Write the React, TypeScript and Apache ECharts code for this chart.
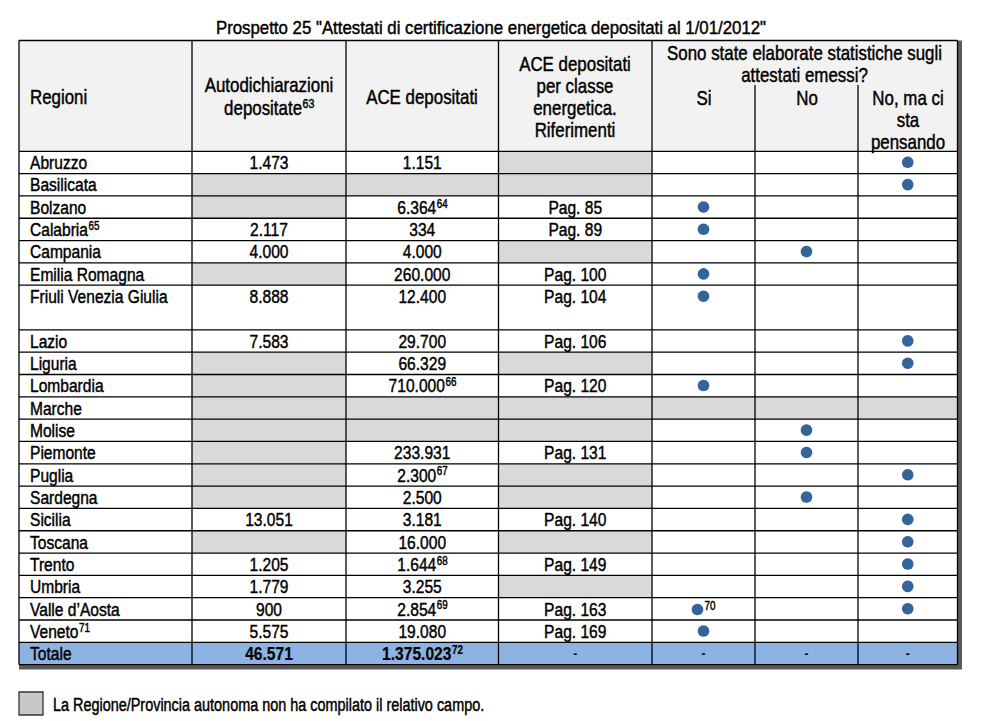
import React, { useEffect, useRef } from "react";
import * as echarts from "echarts";

const title = "Prospetto 25 \"Attestati di certificazione energetica depositati al 1/01/2012\"";
const regions = ["Abruzzo", "Basilicata", "Bolzano", "Calabria", "Campania", "Emilia Romagna", "Friuli Venezia Giulia", "Lazio", "Liguria", "Lombardia", "Marche", "Molise", "Piemonte", "Puglia", "Sardegna", "Sicilia", "Toscana", "Trento", "Umbria", "Valle d\u2019Aosta", "Veneto"];
const regionNotes = ["", "", "", "65", "", "", "", "", "", "", "", "", "", "", "", "", "", "", "", "", "71"];
const rowSpans = [1, 1, 1, 1, 1, 1, 2, 1, 1, 1, 1, 1, 1, 1, 1, 1, 1, 1, 1, 1, 1];
// null = field not filled in (grey cell)
const autodichiarazioni = ["1.473", null, null, "2.117", "4.000", null, "8.888", "7.583", null, null, null, null, null, null, null, "13.051", null, "1.205", "1.779", "900", "5.575"];
const aceDepositati = ["1.151", null, "6.364", "334", "4.000", "260.000", "12.400", "29.700", "66.329", "710.000", null, null, "233.931", "2.300", "2.500", "3.181", "16.000", "1.644", "3.255", "2.854", "19.080"];
const aceNotes = ["", "", "64", "", "", "", "", "", "", "66", "", "", "", "67", "", "", "", "68", "", "69", ""];
const riferimenti = [null, null, "Pag. 85", "Pag. 89", null, "Pag. 100", "Pag. 104", "Pag. 106", null, "Pag. 120", null, null, "Pag. 131", null, null, "Pag. 140", null, "Pag. 149", null, "Pag. 163", "Pag. 169"];
const statSi = [0, 0, 1, 1, 0, 1, 1, 0, 0, 1, null, 0, 0, 0, 0, 0, 0, 0, 0, 1, 1];
const statSiNotes = ["", "", "", "", "", "", "", "", "", "", "", "", "", "", "", "", "", "", "", "70", ""];
const statNo = [0, 0, 0, 0, 1, 0, 0, 0, 0, 0, null, 1, 1, 0, 1, 0, 0, 0, 0, 0, 0];
const statCiPensa = [1, 1, 0, 0, 0, 0, 0, 1, 1, 0, null, 0, 0, 1, 0, 1, 1, 1, 1, 1, 0];
const totaleLabel = "Totale";
const totaleAuto = "46.571";
const totaleAce = "1.375.023";
const totaleAceNote = "72";
const totaleOther = ["-", "-", "-", "-"];
const legendText = "La Regione/Provincia autonoma non ha compilato il relativo campo.";

const FONT = '"Liberation Sans", Arial, sans-serif';
const NARROW = 0.82;

export default function App() {
  const ref = useRef<HTMLDivElement>(null);
  useEffect(() => {
    document.body.style.margin = "0";
    const chart = echarts.init(ref.current!, null, { renderer: "svg" });
    const ctx = document.createElement("canvas").getContext("2d")!;
    const measure = (t: string, size: number, weight = "normal") => {
      ctx.font = `${weight} ${size}px ${FONT}`;
      return ctx.measureText(t).width * NARROW;
    };
    const FS = 19;
    const HS = 20.6;
    const SUP = 12;
    const colX = [19, 192, 346, 498.5, 652, 755, 858, 957.5];
    const top = 40.5;
    const headBottom = 151.3;
    const unit = 22.32;
    const els: any[] = [];
    const bottom = headBottom + unit * 23;

    // shadow + base
    els.push({ type: "rect", shape: { x: 19, y: top, width: 962 - 19, height: 669.5 - top }, style: { fill: "#5a5a5a" } });
    els.push({ type: "rect", shape: { x: colX[0], y: top, width: colX[7] - colX[0], height: bottom - top }, style: { fill: "#ffffff" } });
    els.push({ type: "rect", shape: { x: colX[0], y: top, width: colX[7] - colX[0], height: headBottom - top }, style: { fill: "#f2f2f2" } });

    const texts: any[] = [];
    const txt = (t: string, x: number, y: number, align = "center", size = FS, weight = "normal", sx = NARROW) => {
      texts.push({
        type: "text", x, y, scaleX: sx,
        style: { text: t, fontSize: size, fontFamily: FONT, fontWeight: weight, fill: "#000", stroke: "#000", lineWidth: weight === "bold" ? 0.2 : 0.45, align, verticalAlign: "middle" },
      });
    };
    const supTxt = (main: string, sup: string, x: number, y: number, align: string, weight = "normal", size = FS, supSize = SUP) => {
      if (!sup) { txt(main, x, y, align, size, weight); return; }
      const w1 = measure(main, size, weight);
      const w2 = measure(sup, supSize, weight);
      const sx = align === "center" ? x - (w1 + w2) / 2 : x;
      txt(main, sx, y, "left", size, weight);
      txt(sup, sx + w1 + 0.5, y - 4, "left", supSize, weight);
    };
    const dots: any[] = [];
    const dot = (x: number, y: number) => dots.push({ type: "circle", shape: { cx: x, cy: y, r: 5.8 }, style: { fill: "#35639b" } });

    // header texts
    txt(title, 491, 28, "center", 18.7, "normal", 0.9);
    txt("Regioni", 30, 97, "left", HS);
    txt("Autodichiarazioni", 269, 85, "center", HS);
    supTxt("depositate", "63", 269, 107.5, "center", "normal", HS, 13);
    txt("ACE depositati", 422, 97, "center", HS);
    ["ACE depositati", "per classe", "energetica.", "Riferimenti"].forEach((t, i) => txt(t, 575, 63.5 + i * 22.2, "center", HS));
    txt("Sono state elaborate statistiche sugli", 804.5, 53, "center", HS);
    txt("attestati emessi?", 804.5, 75, "center", HS);
    txt("Si", 704, 98, "center", HS);
    txt("No", 807, 98, "center", HS);
    ["No, ma ci", "sta", "pensando"].forEach((t, i) => txt(t, 908, 98 + i * 22, "center", HS));

    const hLines: number[] = [top, headBottom];
    let y = headBottom;
    const center = (c: number) => (colX[c] + colX[c + 1]) / 2;
    const grey = (c: number, y0: number, h: number) => els.push({ type: "rect", shape: { x: colX[c], y: y0, width: colX[c + 1] - colX[c], height: h }, style: { fill: "#d9d9d9" } });
    regions.forEach((r, i) => {
      const h = unit * rowSpans[i];
      const ty = y + 11.3;
      supTxt(r, regionNotes[i], 30, ty, "left");
      if (autodichiarazioni[i] === null) grey(1, y, h); else txt(autodichiarazioni[i]!, center(1), ty);
      if (aceDepositati[i] === null) grey(2, y, h); else supTxt(aceDepositati[i]!, aceNotes[i], center(2), ty, "center");
      if (riferimenti[i] === null) grey(3, y, h); else txt(riferimenti[i]!, center(3), ty);
      const stats = [statSi[i], statNo[i], statCiPensa[i]];
      stats.forEach((s, k) => {
        const c = 4 + k;
        if (s === null) grey(c, y, h);
        else if (s === 1) {
          if (k === 0 && statSiNotes[i]) {
            dot(center(c) - 6, y + 11.8);
            txt(statSiNotes[i], center(c) - 6 + 7, y + 8, "left", SUP);
          } else dot(center(c), y + 11);
        }
      });
      y += h;
      hLines.push(y);
    });
    // totale row
    els.push({ type: "rect", shape: { x: colX[0], y, width: colX[7] - colX[0], height: bottom - y }, style: { fill: "#8db3e2" } });
    const ty = y + 11;
    txt(totaleLabel, 30, ty, "left");
    txt(totaleAuto, center(1), ty, "center", FS, "bold");
    supTxt(totaleAce, totaleAceNote, center(2), ty, "center", "bold");
    totaleOther.forEach((t, k) => txt(t, center(3 + k), ty, "center", 13, "bold"));
    hLines.push(bottom);

    // grid lines
    const lines: any[] = [];
    const L = (x1: number, y1: number, x2: number, y2: number) => lines.push({ type: "line", shape: { x1, y1, x2, y2 }, style: { stroke: "#000", lineWidth: 1.3 } });
    hLines.forEach((hy) => L(colX[0], hy, colX[7], hy));
    colX.forEach((cx, k) => {
      if (k === 5 || k === 6) L(cx, 85, cx, bottom);
      else L(cx, top, cx, bottom);
    });

    // legend
    const legend: any[] = [
      { type: "rect", shape: { x: 19, y: 692, width: 24, height: 23 }, style: { fill: "#c8c8c8", stroke: "#333", lineWidth: 1.3 } },
    ];
    txt(legendText, 53, 704, "left", 17.6);

    chart.setOption({ animation: false, graphic: { elements: [...els, ...lines, ...legend, ...texts, ...dots] } });
    return () => chart.dispose();
  }, []);
  return <div ref={ref} style={{ position: "absolute", left: 0, top: 0, width: 981, height: 721, background: "#fff" }} />;
}
